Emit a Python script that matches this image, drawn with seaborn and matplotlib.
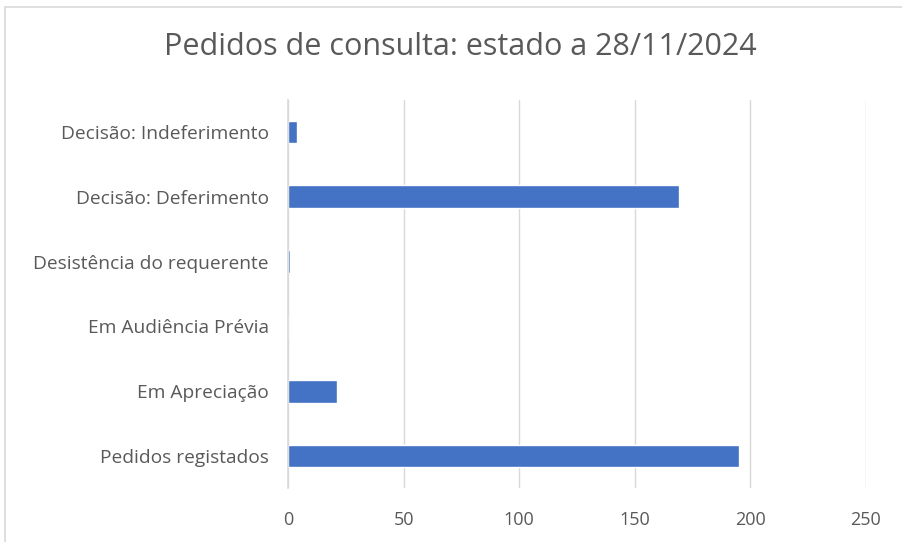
import matplotlib
matplotlib.use("Agg")
import matplotlib.pyplot as plt
import seaborn as sns
import pandas as pd
from matplotlib.patches import Rectangle

categories = ["Decisão: Indeferimento", "Decisão: Deferimento", "Desistência do requerente",
              "Em Audiência Prévia", "Em Apreciação", "Pedidos registados"]
values = [4, 169, 1, 0, 21, 195]
x_ticks = [0, 50, 100, 150, 200, 250]
title = "Pedidos de consulta: estado a 28/11/2024"

sns.set_theme(style="white")
plt.rcParams['font.family'] = ['Open Sans', 'DejaVu Sans']

df = pd.DataFrame({"cat": categories, "val": values})

fig = plt.figure(figsize=(9.02, 5.42), dpi=100)
ax = fig.add_axes([288/902, 1-488.4/542, (866-288)/902, (488.4-99.6)/542])
sns.barplot(data=df, x="val", y="cat", ax=ax, color="#4472C4", width=0.35, saturation=1, orient="h")

ax.set_xlim(0, 250)
ax.set_xticks(x_ticks)
ax.set_xticklabels([str(t) for t in x_ticks], fontsize=13, color="#595959")
ax.tick_params(axis='y', labelsize=13.8, labelcolor="#595959", length=0, pad=14)
ax.tick_params(axis='x', length=0, pad=16)
ax.set_xlabel("")
ax.set_ylabel("")
ax.xaxis.grid(True, color="#D9D9D9", linewidth=1)
ax.set_axisbelow(True)
for s in ["top", "right", "bottom"]:
    ax.spines[s].set_visible(False)
ax.spines["left"].set_color("#D9D9D9")
ax.spines["left"].set_linewidth(1.2)

fig.text(0.5 * (163 + 757) / 902, 1 - 47/542, title, ha="center", va="center",
         fontsize=22, color="#595959")

fig.patches.append(Rectangle((5/902, -0.1), 2, 1 - 7/542 + 0.1, transform=fig.transFigure,
                             fill=False, edgecolor="#D9D9D9", linewidth=1.2))

fig.savefig("out.png", dpi=100)
